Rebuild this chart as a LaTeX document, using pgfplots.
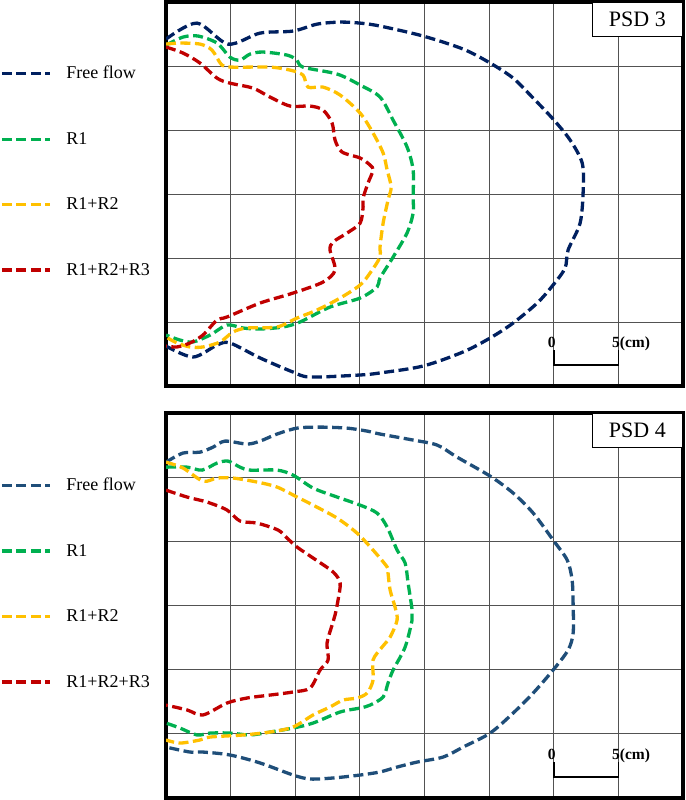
\documentclass[border=0pt]{standalone}
\usepackage{pgfplots}
\pgfplotsset{compat=1.18}
\usepackage{fontspec}
\setmainfont{Liberation Serif}
\definecolor{navyc}{HTML}{002060}
\definecolor{steel}{HTML}{1F4E79}
\definecolor{grn}{HTML}{00B050}
\definecolor{ylw}{HTML}{FFC000}
\definecolor{rd}{HTML}{C00000}
\pgfplotsset{
  psd/.style={
    scale only axis, width=517pt,
    xmin=0, xmax=40, ymin=0, ymax=30,
    xtick={0,5,...,40}, ytick={0,5,...,30},
    xticklabels={}, yticklabels={}, major tick length=0pt,
    grid=major, grid style={black!68, line width=0.8pt},
    axis line style={line width=3.2pt},
    legend cell align=left,
    legend image code/.code={\draw[##1] (0pt,0pt) -- (48pt,0pt);},
    legend style={draw=none, fill=none, inner sep=0pt,
      at={(axis description cs:-0.3211,0.833)}, anchor=north west,
      font=\fontsize{18}{20}\selectfont, row sep=52pt,
      nodes={inner sep=0pt},
      /tikz/every odd column/.append style={column sep=15pt}},
  },
  cl/.style={line width=3.3pt, dash pattern=on 10pt off 4.5pt, smooth, no markers},
}
\begin{document}
\begin{tikzpicture}
\useasboundingbox (0,0) rectangle (685pt,800pt);
% ---------------- (c) PSD 3 ----------------
\begin{axis}[psd, height=384pt, at={(166pt,414pt)}, anchor=south west]
\addplot[cl, color=navyc] coordinates {
(0,27.1) (2.40,28.35) (4.80,26.71) (7.28,27.57) (9.83,27.73) (11.69,28.27) (13.47,28.43) (15.02,28.35) (16.56,28.12) (19.89,27.34) (22.99,26.32) (25.08,25.23) (26.86,24.05) (28.41,22.49) (29.95,20.85) (31.27,19.21) (32.20,17.42) (32.28,15.31) (32.04,12.73) (31.11,10.62) (30.88,9.22) (29.95,7.89) (28.72,6.48) (26.86,4.92) (25.08,3.75) (22.99,2.66) (19.89,1.56) (16.56,1.02) (15.02,0.86) (11.15,0.70) (9.83,1.09) (7.28,2.19) (4.95,3.36) (3.95,3.20) (2.09,2.26) (0,3.12)};
\addlegendentry{Free flow}
\addplot[cl, color=grn] coordinates {
(0,26.63) (1.32,27.26) (2.48,27.34) (3.95,26.79) (4.95,25.69) (5.73,25.46) (6.50,25.93) (7.51,26.09) (9.37,25.85) (10.14,25.46) (10.60,24.91) (13.24,24.37) (15.02,23.51) (16.56,22.57) (17.57,20.77) (18.65,18.67) (19.12,16.87) (19.12,14.76) (19.12,13.51) (18.65,11.95) (17.57,10.07) (16.56,8.43) (16.33,7.73) (15.02,6.87) (12.69,6.17) (10.37,5.00) (9.06,4.61) (7.28,4.45) (5.96,4.53) (4.72,4.76) (3.41,3.98) (2.09,3.44) (1.08,3.59) (0,3.98)};
\addlegendentry{R1}
\addplot[cl, color=ylw] coordinates {
(0,26.71) (1.08,26.79) (2.63,26.71) (3.56,26.24) (4.33,25.07) (5.19,24.91) (8.05,24.91) (9.60,24.68) (10.60,24.29) (10.99,23.35) (12.15,23.35) (13.47,22.73) (15.02,21.32) (16.02,19.76) (16.80,18.20) (17.11,16.87) (17.42,15.54) (17.18,14.53) (16.80,12.73) (16.56,10.86) (16.56,10.07) (15.79,8.83) (15.02,7.89) (13.47,6.87) (11.69,5.94) (10.14,5.31) (8.59,4.61) (6.27,4.53) (5.19,4.22) (4.18,3.44) (2.86,3.05) (1.86,3.05) (0.85,3.36) (0,3.83)};
\addlegendentry{R1+R2}
\addplot[cl, color=rd] coordinates {
(0,26.48) (1.32,26.01) (2.63,25.23) (3.95,24.05) (4.95,23.66) (6.73,23.27) (8.05,22.57) (9.60,21.87) (11.15,21.87) (12.15,21.56) (12.85,20.54) (13.08,19.21) (13.62,18.28) (15.02,17.81) (15.79,17.26) (16.02,16.87) (15.63,15.85) (15.25,14.68) (15.25,13.98) (15.02,12.73) (14.01,11.95) (12.93,11.25) (12.69,10.62) (13.08,9.06) (12.15,8.12) (9.83,7.26) (7.28,6.48) (4.72,5.39) (3.95,5.15) (2.86,3.98) (1.86,3.36) (0.85,3.05) (0,3.12)};
\addlegendentry{R1+R2+R3}
\draw[line width=1.5pt] (axis cs:30,2.8) -- (axis cs:30,1.64) -- (axis cs:35,1.64) -- (axis cs:35,2.8);
\node[font=\bfseries\fontsize{15.5}{17}\selectfont, anchor=base, inner sep=0pt] at (axis cs:29.85,2.97) {0};
\node[font=\bfseries\fontsize{15.5}{17}\selectfont, anchor=base west, inner sep=0pt] at (axis cs:34.50,2.97) {5(cm)};
\node[draw, line width=1.2pt, fill=white, anchor=north east, minimum width=90pt, minimum height=34pt, inner sep=0pt, font=\fontsize{22}{24}\selectfont] at (rel axis cs:1,1) {PSD 3};
\node[font=\bfseries\fontsize{18}{20}\selectfont, inner sep=0pt] at (axis description cs:-0.192,0.977) {(c)};
\end{axis}
% ---------------- (d) PSD 4 ----------------
\begin{axis}[psd, height=385pt, at={(166pt,2pt)}, anchor=south west,
  legend style={at={(axis description cs:-0.3211,0.831)}}]
\addplot[cl, color=steel] coordinates {
(0,26.17) (1.32,26.88) (2.63,26.95) (3.64,27.34) (4.57,27.81) (6.27,27.58) (7.28,27.81) (8.59,28.36) (10.14,28.82) (11.92,28.90) (14.01,28.82) (15.56,28.59) (16.56,28.36) (19.12,27.89) (20.98,27.50) (22.52,26.56) (25.08,25.08) (26.86,23.76) (28.41,22.20) (29.95,20.10) (31.04,18.54) (31.42,16.98) (31.50,15.03) (31.50,12.85) (31.11,11.53) (29.95,9.97) (28.41,8.18) (26.86,6.62) (25.08,5.06) (22.99,3.97) (21.44,3.19) (19.43,2.80) (17.88,2.41) (16.56,2.03) (15.02,1.79) (12.93,1.56) (11.15,1.48) (9.83,1.79) (7.28,2.73) (4.95,3.35) (2.86,3.58) (1.86,3.58) (0,3.97)};
\addlegendentry{Free flow}
\addplot[cl, color=grn] coordinates {
(0,25.78) (1.63,25.78) (2.79,25.55) (3.95,26.10) (4.80,26.25) (5.73,25.78) (6.50,25.55) (8.59,25.55) (9.83,25.16) (11.38,24.15) (13.24,23.45) (15.02,22.82) (16.33,22.20) (17.11,21.11) (17.88,19.32) (18.50,18.31) (18.73,16.75) (19.04,14.65) (19.04,13.87) (18.50,11.76) (17.57,9.97) (17.18,8.96) (16.80,7.87) (15.79,7.24) (15.02,7.01) (13.47,6.70) (11.38,5.84) (9.83,5.45) (8.05,5.14) (6.50,4.91) (4.95,5.06) (3.41,5.06) (2.40,4.91) (1.08,5.45) (0,5.84)};
\addlegendentry{R1}
\addplot[cl, color=ylw] coordinates {
(0,26.17) (1.32,25.71) (2.86,24.69) (3.95,24.93) (5.19,24.93) (7.04,24.62) (8.59,24.23) (10.14,23.45) (11.38,22.82) (13.24,21.81) (14.78,20.64) (16.02,19.32) (17.11,18.00) (17.18,17.53) (17.34,16.20) (17.72,14.88) (17.88,13.87) (17.34,12.54) (16.72,11.76) (16.02,10.75) (16.02,9.19) (15.56,8.18) (14.78,7.79) (13.70,7.63) (12.69,7.09) (11.38,6.47) (9.83,5.53) (8.05,5.14) (5.96,4.91) (3.41,4.75) (2.63,4.52) (1.08,4.28) (0,4.52)};
\addlegendentry{R1+R2}
\addplot[cl, color=rd] coordinates {
(0,23.99) (1.63,23.45) (3.17,23.06) (4.72,22.44) (5.73,21.58) (7.04,21.42) (8.67,20.88) (9.37,20.25) (10.14,19.55) (11.38,18.70) (12.93,17.61) (13.47,16.75) (13.31,15.42) (13.08,14.26) (12.85,13.48) (12.46,12.07) (12.54,10.75) (11.92,9.97) (11.15,8.57) (9.83,8.26) (8.05,8.02) (6.27,7.79) (4.72,7.40) (2.86,6.47) (1.63,6.86) (0,7.24)};
\addlegendentry{R1+R2+R3}
\draw[line width=1.5pt] (axis cs:30,2.8) -- (axis cs:30,1.64) -- (axis cs:35,1.64) -- (axis cs:35,2.8);
\node[font=\bfseries\fontsize{15.5}{17}\selectfont, anchor=base, inner sep=0pt] at (axis cs:29.85,2.97) {0};
\node[font=\bfseries\fontsize{15.5}{17}\selectfont, anchor=base west, inner sep=0pt] at (axis cs:34.50,2.97) {5(cm)};
\node[draw, line width=1.2pt, fill=white, anchor=north east, minimum width=90pt, minimum height=34pt, inner sep=0pt, font=\fontsize{22}{24}\selectfont] at (rel axis cs:1,1) {PSD 4};
\node[font=\bfseries\fontsize{18}{20}\selectfont, inner sep=0pt] at (axis description cs:-0.192,0.964) {(d)};
\end{axis}
\end{tikzpicture}
\end{document}
